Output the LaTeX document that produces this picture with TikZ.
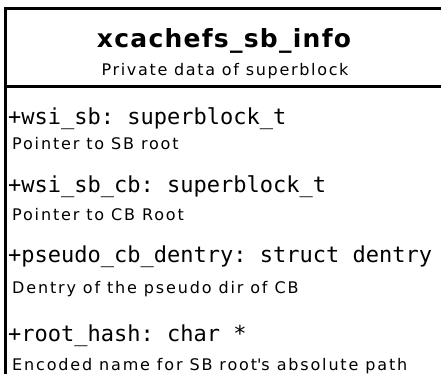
\documentclass[tikz,border=0pt]{standalone}
\usepackage{fontspec}
\setmainfont{DejaVu Sans}
\setmonofont{DejaVu Sans Mono}
\usepackage{tikz}
\tikzstyle{cname}=[anchor=base,inner sep=0pt,font=\fontsize{25}{27}\selectfont\bfseries\addfontfeature{LetterSpace=5}]
\tikzstyle{cdesc}=[anchor=base,inner sep=0pt,font=\fontsize{16}{18}\selectfont\addfontfeature{LetterSpace=10.5}]
\tikzstyle{attr}=[anchor=base west,inner sep=0pt,font=\fontsize{22}{24}\selectfont\ttfamily]
\tikzstyle{note}=[anchor=base west,inner sep=0pt,font=\fontsize{16}{18}\selectfont\addfontfeature{LetterSpace=11.5}]
\tikzstyle{border}=[line width=3pt,line cap=rect]

\begin{document}
\begin{tikzpicture}[x=1pt,y=-1pt]
            \useasboundingbox (0,0) rectangle (441,373);
            \clip (0,0) rectangle (441,373);
            \fill[white] (0,0) rectangle (441,373);
            \node[cname] (N) at (224, 47) {xcachefs\_sb\_info};
            \node[cdesc] (D) at (225, 75) {Private data of superblock};
            \node[attr] (A1) at (8, 124) {+wsi\_sb: superblock\_t};
            \node[note] (C1) at (12, 149) {Pointer to SB root};
            \node[attr] (A2) at (8, 192) {+wsi\_sb\_cb: superblock\_t};
            \node[note] (C2) at (12, 220) {Pointer to CB Root};
            \node[attr] (A3) at (8, 262) {+pseudo\_cb\_dentry: struct dentry};
            \node[note] (C3) at (12, 293) {Dentry of the pseudo dir of CB};
            \node[attr] (A4) at (8, 341) {+root\_hash: char *};
            \node[note] (C4) at (12, 370) {Encoded name for SB root\textquotesingle s absolute path};
            \draw[border] (460, 8.5) -- (5.5, 8.5) -- (5.5, 390);
            \draw[border] (5.5, 86.5) -- (460, 86.5);
        \end{tikzpicture}
\end{document}
